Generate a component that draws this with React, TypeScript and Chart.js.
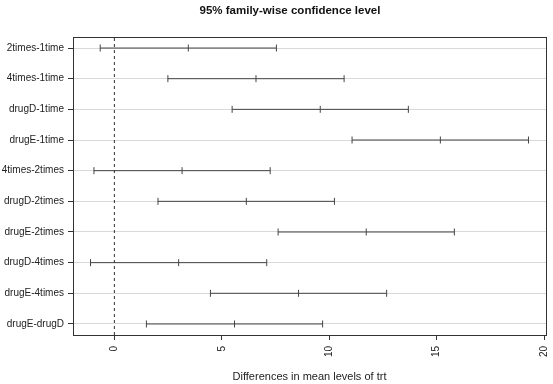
import React, { useEffect, useRef } from "react";
import { Chart, registerables } from "chart.js";

Chart.register(...registerables);

const comparisons = [
  "2times-1time",
  "4times-1time",
  "drugD-1time",
  "drugE-1time",
  "4times-2times",
  "drugD-2times",
  "drugE-2times",
  "drugD-4times",
  "drugE-4times",
  "drugE-drugD",
];
const diffValues = [3.44, 6.59, 9.58, 15.17, 3.15, 6.14, 11.72, 2.99, 8.57, 5.59];
const lowerValues = [-0.66, 2.49, 5.48, 11.06, -0.95, 2.03, 7.62, -1.11, 4.47, 1.49];
const upperValues = [7.54, 10.69, 13.68, 19.27, 7.25, 10.24, 15.82, 7.09, 12.67, 9.69];
const xTickValues = [0, 5, 10, 15, 20];
const titleText = "95% family-wise confidence level";
const xAxisTitle = "Differences in mean levels of trt";

const FONT = '"Liberation Sans", Arial, sans-serif';

export default function App() {
  const ref = useRef<HTMLCanvasElement | null>(null);

  useEffect(() => {
    if (!ref.current) return;
    const n = comparisons.length;
    const allX = [...lowerValues, ...upperValues];
    const xLo = Math.min(...allX);
    const xHi = Math.max(...allX);
    const xPad = (xHi - xLo) * 0.04;
    const yLo = 1 - (n - 1) * 0.04;
    const yHi = n + (n - 1) * 0.04;

    const intervalSets = comparisons.map((name, i) => ({
      label: name,
      data: [
        { x: lowerValues[i], y: n - i },
        { x: diffValues[i], y: n - i },
        { x: upperValues[i], y: n - i },
      ],
      showLine: true,
      borderColor: "#444",
      borderWidth: 1,
      pointStyle: "line" as const,
      pointRotation: 90,
      pointRadius: 3.5,
      pointHoverRadius: 3.5,
      pointBorderColor: "#444",
      pointBorderWidth: 1,
    }));

    const zeroLine = {
      label: "zero",
      data: [
        { x: 0, y: yLo },
        { x: 0, y: yHi },
      ],
      showLine: true,
      borderColor: "#333",
      borderWidth: 1,
      borderDash: [3, 3],
      pointRadius: 0,
    };

    const boxAndTitle = {
      id: "boxAndTitle",
      afterDraw(chart: any) {
        const { ctx, chartArea } = chart;
        ctx.save();
        ctx.strokeStyle = "#333";
        ctx.lineWidth = 1;
        ctx.strokeRect(
          Math.round(chartArea.left) + 0.5,
          Math.round(chartArea.top) + 0.5,
          Math.round(chartArea.right - chartArea.left),
          Math.round(chartArea.bottom - chartArea.top)
        );
        ctx.fillStyle = "#111";
        ctx.font = `bold 11.5px ${FONT}`;
        ctx.textAlign = "center";
        ctx.textBaseline = "middle";
        ctx.fillText(titleText, 290, 11);
        ctx.restore();
      },
    };

    const chart = new Chart(ref.current, {
      type: "scatter",
      data: { datasets: [zeroLine, ...intervalSets] as any },
      options: {
        animation: false,
        responsive: false,
        devicePixelRatio: 1,
        layout: { padding: { top: 37, right: 7, left: 0, bottom: 0 } },
        plugins: {
          legend: { display: false },
          tooltip: { enabled: false },
          title: { display: false },
        },
        scales: {
          x: {
            type: "linear",
            min: xLo - xPad,
            max: xHi + xPad,
            afterBuildTicks: (scale: any) => {
              scale.ticks = xTickValues.map((v) => ({ value: v }));
            },
            afterFit: (scale: any) => {
              scale.height = 49;
              scale.paddingLeft = 0;
              scale.paddingRight = 0;
            },
            grid: {
              drawOnChartArea: false,
              drawTicks: true,
              tickLength: 5,
              tickColor: "#333",
            },
            border: { display: true, color: "#333" },
            ticks: {
              minRotation: 90,
              maxRotation: 90,
              padding: 6,
              autoSkip: false,
              color: "#222",
              font: { family: FONT, size: 10 },
            },
            title: {
              display: true,
              text: xAxisTitle,
              color: "#222",
              font: { family: FONT, size: 11 },
              padding: { top: 0, bottom: 0 },
            },
          },
          y: {
            type: "linear",
            min: yLo,
            max: yHi,
            afterBuildTicks: (scale: any) => {
              scale.ticks = comparisons.map((_, i) => ({ value: n - i }));
            },
            afterFit: (scale: any) => {
              scale.width = 73;
              scale.paddingTop = 0;
              scale.paddingBottom = 0;
            },
            grid: {
              color: "#d9d9d9",
              lineWidth: 1,
              drawTicks: true,
              tickLength: 5,
              tickColor: "#333",
            },
            border: { display: true, color: "#333" },
            ticks: {
              autoSkip: false,
              padding: 4,
              color: "#222",
              font: { family: FONT, size: 10 },
              callback: (v: any) => comparisons[n - Number(v)] ?? "",
            },
          },
        },
      },
      plugins: [boxAndTitle],
    });

    return () => chart.destroy();
  }, []);

  return (
    <div style={{ position: "fixed", left: 0, top: 0, width: 553, height: 384, background: "#fff" }}>
      <canvas ref={ref} width={553} height={384} style={{ width: 553, height: 384, display: "block" }} />
    </div>
  );
}
